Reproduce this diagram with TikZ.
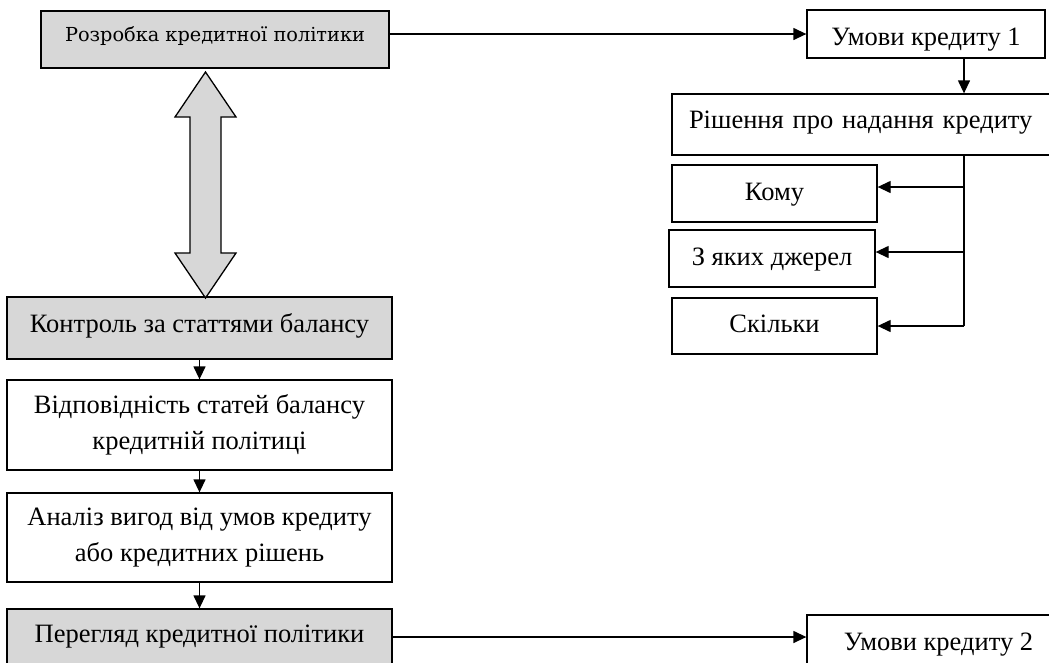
\documentclass[tikz,border=0pt]{standalone}
\usepackage{fontspec}
\setmainfont{Liberation Serif}
\newfontfamily\slabfont{DejaVu Serif}
\usetikzlibrary{arrows.meta,calc}
\definecolor{boxgray}{RGB}{215,215,215}
\tikzset{
  box/.style={draw=black, line width=1.3pt, inner sep=0pt, align=center,
    font=\fontsize{26.5}{36}\selectfont},
  shaded/.style={box, fill=boxgray},
  bl/.style={text height=24pt, text depth=#1},
  link/.style={line width=1.3pt, -{Triangle[length=13pt,width=12pt]}},
  plain/.style={line width=1.3pt},
  dblarrow/.style={draw=black, line width=1.3pt, fill=boxgray, line join=miter},
}
\begin{document}
\begin{tikzpicture}[x=1pt,y=-1pt]
\useasboundingbox (0,0) rectangle (1049,662);

% upper part: policy design and credit terms
\node[shaded, bl=21pt, minimum width=348pt, minimum height=57pt,
      font=\slabfont\fontsize{19.3}{22}\selectfont] (b1) at (215,39.5) {Розробка кредитної політики};
\node[box, bl=2pt, minimum width=238pt, minimum height=48pt] (u1) at (926,34) {Умови кредиту 1};
\node[box, bl=17pt, minimum width=398pt, minimum height=61pt, text width=364pt,
      align=left, inner xsep=17pt] (r) at (871,124.5) {Рішення про надання кредиту};
\node[box, bl=11pt, minimum width=205pt, minimum height=57pt] (s1) at (774.5,193.5) {Кому};
\node[box, bl=11pt, minimum width=206pt, minimum height=57pt] (s2) at (772,258.5) {З яких джерел};
\node[box, bl=12pt, minimum width=205pt, minimum height=56pt] (s3) at (774.5,326) {Скільки};

% left column: control and review
\node[shaded, bl=16pt, minimum width=385pt, minimum height=62pt] (k) at (199.5,328) {Контроль за статтями балансу};
\node[box, minimum width=385pt, minimum height=90pt] (v) at (199.5,425) {Відповідність статей балансу\\кредитній політиці};
\node[box, minimum width=385pt, minimum height=89pt] (a) at (199.5,537.5) {Аналіз вигод від умов кредиту\\або кредитних рішень};
\node[shaded, bl=14pt, minimum width=385pt, minimum height=56pt] (p) at (199.5,637) {Перегляд кредитної політики};
\node[box, bl=39pt, minimum width=263pt, minimum height=85pt] (u2) at (938.5,657.5) {Умови кредиту 2};

% two-way link between policy design and balance control
\draw[dblarrow] (205.5,72) -- (236,117) -- (221,117) -- (221,253) -- (236,253)
  -- (205.5,298) -- (175,253) -- (190,253) -- (190,117) -- (175,117) -- cycle;

% connectors
\coordinate (sp) at (964,0);
\draw[link] (b1.east |- u1.west) -- (u1.west);
\draw[link] (u1.south -| sp) -- (r.north -| sp);
\draw[plain] (r.south -| sp) -- (s3.east -| sp);
\draw[link] ($(s1.east -| sp)+(0,-6.5)$) -- ($(s1.east)+(0,-6.5)$);
\draw[link] ($(s2.east -| sp)+(0,-6.5)$) -- ($(s2.east)+(0,-6.5)$);
\draw[link] (s3.east -| sp) -- (s3.east);

\draw[link] (k.south) -- (v.north);
\draw[link] (v.south) -- (a.north);
\draw[link] (a.south) -- (p.north);
\draw[link] (p.east) -- (p.east -| u2.west);
\end{tikzpicture}
\end{document}
